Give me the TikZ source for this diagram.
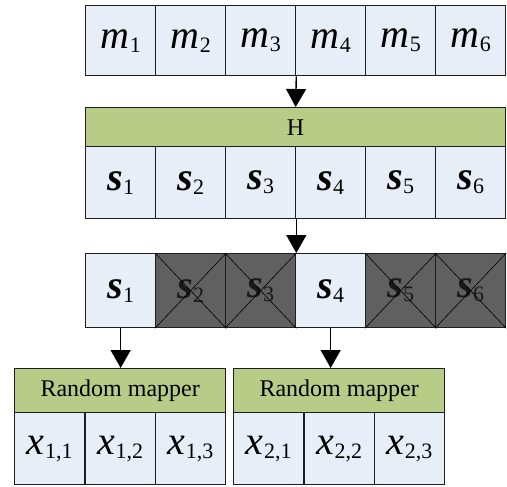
\documentclass[tikz,border=0pt]{standalone}
\usepackage{fontspec}
\setmainfont{Liberation Serif}
\usetikzlibrary{arrows.meta}
\definecolor{cellblue}{RGB}{231,238,247}
\definecolor{mapgreen}{RGB}{184,204,136}
\definecolor{crossgray}{RGB}{96,96,96}
\definecolor{edgec}{RGB}{30,30,30}
\newcommand\subtxt[1]{\kern0.5pt\raisebox{-4pt}{\fontsize{22}{22}\selectfont #1}}
\newcommand\mv[1]{\textit{m}\subtxt{#1}}
\newcommand\sv[1]{\textbf{\textit{s}}\subtxt{#1}}
\newcommand\xv[1]{\textit{x}\subtxt{#1}}
\tikzset{
  cellbox/.style={draw=edgec, line width=1.3pt, fill=cellblue, inner sep=0pt,
    anchor=north west, minimum width=70pt, minimum height=#1,
    font=\fontsize{40}{40}\selectfont},
  barbox/.style={draw=edgec, line width=1.3pt, fill=mapgreen, inner sep=0pt,
    anchor=north west, font=\fontsize{24}{24}\selectfont},
  crossed/.style={fill=crossgray, text=black!90},
  arr/.style={draw=black, line width=1.4pt, -{Triangle[width=20pt,length=18pt]}},
  diag/.style={draw=black, line width=0.6pt}
}
\begin{document}
\begin{tikzpicture}[x=1pt,y=-1pt]
\useasboundingbox (0,0) rectangle (507,487);
% top row
\foreach \i in {1,...,6}
  \node[cellbox=70pt] (m\i) at ({85+70*(\i-1)},5) {\mv{\i}};
% H bar
\node[barbox, minimum width=420pt, minimum height=39pt] (H) at (85,107) {H};
% s row
\foreach \i in {1,...,6}
  \node[cellbox=72pt] (s\i) at ({85+70*(\i-1)},146) {\sv{\i}};
% selected row
\node[cellbox=74pt] (t1) at (85,253) {\sv{1}};
\node[cellbox=74pt, crossed] (t2) at (155,253) {\sv{2}};
\node[cellbox=74pt, crossed] (t3) at (225,253) {\sv{3}};
\node[cellbox=74pt] (t4) at (295,253) {\sv{4}};
\node[cellbox=74pt, crossed] (t5) at (365,253) {\sv{5}};
\node[cellbox=74pt, crossed] (t6) at (435,253) {\sv{6}};
\foreach \i in {2,3,5,6}
  \draw[diag] (t\i.north west) -- (t\i.south east) (t\i.north east) -- (t\i.south west);
% random mappers
\node[barbox, minimum width=211pt, minimum height=44pt] (R1) at (14,368) {Random mapper};
\node[barbox, minimum width=211pt, minimum height=44pt] (R2) at (233,368) {Random mapper};
\node[cellbox=72pt, minimum width=70.33pt] (x11) at (14,412) {\xv{1,1}};
\node[cellbox=72pt, minimum width=70.33pt] (x12) at (84.33,412) {\xv{1,2}};
\node[cellbox=72pt, minimum width=70.33pt] (x13) at (154.67,412) {\xv{1,3}};
\node[cellbox=72pt, minimum width=70.33pt] (x21) at (233,412) {\xv{2,1}};
\node[cellbox=72pt, minimum width=70.33pt] (x22) at (303.33,412) {\xv{2,2}};
\node[cellbox=72pt, minimum width=70.33pt] (x23) at (373.67,412) {\xv{2,3}};
% arrows
\draw[arr] (m3.south east) -- (H.north);
\draw[arr] (s3.south east) -- (t3.north east);
\draw[arr] (t1.south) -- (t1.south |- R1.north);
\draw[arr] (t4.south) -- (t4.south |- R2.north);
\end{tikzpicture}
\end{document}
